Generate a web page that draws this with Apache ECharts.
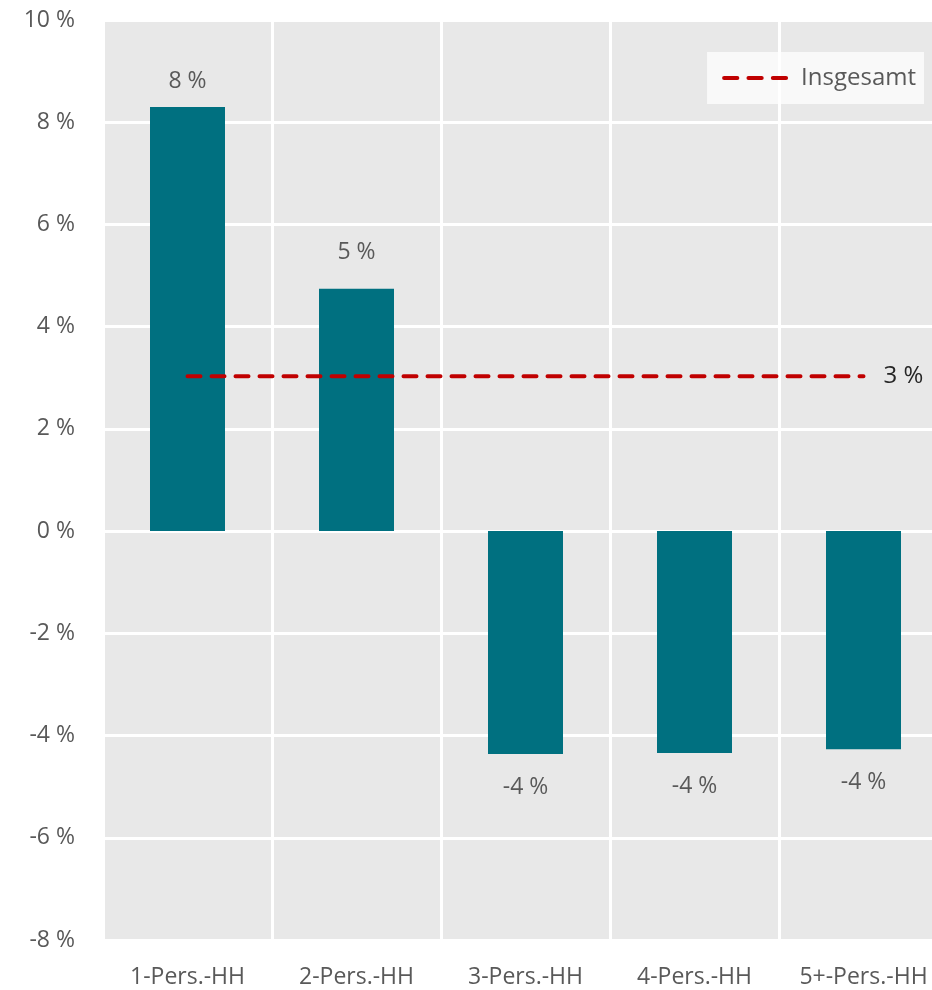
<!DOCTYPE html>
<html>
<head>
<meta charset="utf-8">
<script src="https://cdn.jsdelivr.net/npm/echarts@6/dist/echarts.min.js"></script>
<style>
  html, body { margin: 0; padding: 0; background: #fff; }
  #chart { width: 932px; height: 990px; }
</style>
</head>
<body>
<div id="chart"></div>
<script>
// Daten
const categories = ['1-Pers.-HH', '2-Pers.-HH', '3-Pers.-HH', '4-Pers.-HH', '5+-Pers.-HH'];
const barValues = [8.3, 4.74, -4.36, -4.34, -4.27];
const totalValue = 3.03;
const totalLine = categories.map(function () { return totalValue; });
const yTicks = { min: -8, max: 10, step: 2 };

(function () {
    let myChart = echarts.init(document.getElementById('chart'));
    const font = '"Open Sans", "Noto Sans", sans-serif';
    const grey = '#595959';
    const fs = 23;
    // Abstand der Beschriftung zum Balkenende (wie im Original etwas unregelmäßig)
    const labelDistance = [14, 25, 22, 22, 22];

    let barData = barValues.map(function (v, i) {
        return { value: v, label: { distance: labelDistance[i] } };
    });

    let option = {
        animation: false,
        textStyle: { fontFamily: font },
        legend: {
            right: 8,
            top: 52,
            padding: [14, 8, 14, 15],
            backgroundColor: 'rgba(255,255,255,0.75)',
            itemWidth: 66,
            itemHeight: 5,
            itemGap: 12,
            textStyle: { color: grey, fontSize: 24, fontFamily: font, padding: [0, 0, 0, 8] },
            data: [{
                name: 'Insgesamt',
                // drei Striche wie die gestrichelte Linie
                icon: 'path://M2,0h13a2,2 0 0 1 0,4h-13a2,2 0 0 1 0,-4z M26,0h13a2,2 0 0 1 0,4h-13a2,2 0 0 1 0,-4z M50,0h13a2,2 0 0 1 0,4h-13a2,2 0 0 1 0,-4z',
                itemStyle: { color: '#c00000' }
            }]
        },
        grid: {
            left: 103,
            right: -16,
            top: 20,
            bottom: 50,
            outerBoundsMode: 'none',
            show: true,
            backgroundColor: '#e8e8e8',
            borderWidth: 0
        },
        xAxis: {
            type: 'category',
            data: categories,
            axisLine: { show: false },
            axisTick: { show: false },
            splitLine: { show: true, lineStyle: { color: '#fff', width: 3 } },
            axisLabel: { color: grey, fontSize: fs, margin: 26 }
        },
        yAxis: {
            type: 'value',
            min: yTicks.min,
            max: yTicks.max,
            interval: yTicks.step,
            axisLine: { show: false },
            axisTick: { show: false },
            splitLine: { lineStyle: { color: '#fff', width: 3 } },
            axisLabel: {
                color: grey,
                fontSize: fs,
                margin: 28,
                formatter: '{value} %'
            }
        },
        series: [
            {
                name: 'Anteil',
                type: 'bar',
                data: barData,
                barWidth: 75,
                itemStyle: { color: '#007080' },
                label: {
                    show: true,
                    position: 'outside',
                    color: grey,
                    fontSize: fs,
                    formatter: function (p) { return Math.round(p.value) + ' %'; }
                }
            },
            {
                name: 'Insgesamt',
                type: 'line',
                data: totalLine,
                symbol: 'none',
                z: 5,
                lineStyle: {
                    color: '#c00000',
                    width: 4,
                    type: [13, 11],
                    cap: 'round'
                },
                itemStyle: { color: '#c00000' },
                endLabel: {
                    show: true,
                    distance: 20,
                    color: '#262626',
                    fontSize: 24,
                    formatter: function (p) { return Math.round(p.value) + ' %'; }
                }
            }
        ]
    };

    myChart.setOption(option);

    window.addEventListener('resize', function () {
        myChart.resize();
    });
})();
</script>
</body>
</html>
